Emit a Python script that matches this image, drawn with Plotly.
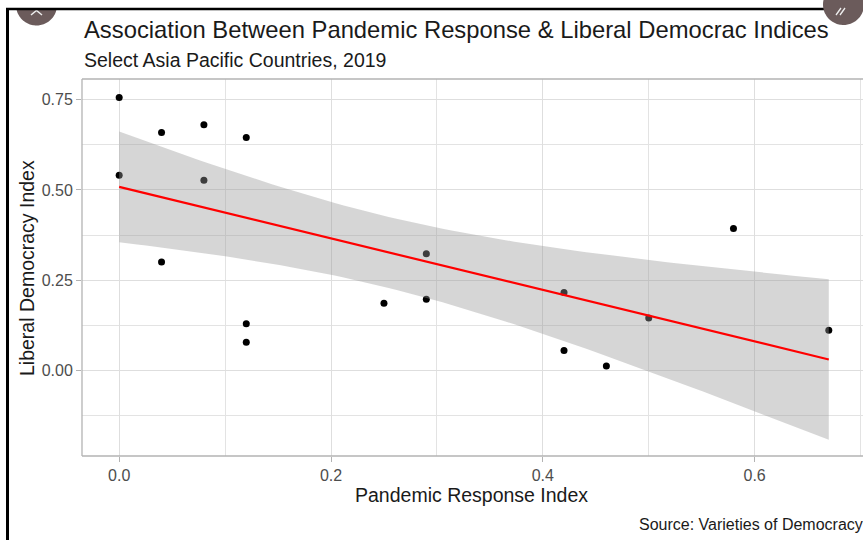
import numpy as np
import plotly.graph_objects as go

# Pandemic response index vs. liberal democracy index, select Asia Pacific countries (2019)
pandemic_response = [0.00, 0.00, 0.04, 0.04, 0.08, 0.08, 0.12, 0.12, 0.12,
                     0.25, 0.29, 0.29, 0.42, 0.42, 0.46, 0.50, 0.58, 0.67]
liberal_democracy = [0.756, 0.541, 0.659, 0.300, 0.681, 0.527, 0.645, 0.129, 0.078,
                     0.186, 0.323, 0.197, 0.216, 0.055, 0.012, 0.145, 0.393, 0.111]

x_ticks = [0.0, 0.2, 0.4, 0.6]
y_ticks = [0.00, 0.25, 0.50, 0.75]

title_text = "Association Between Pandemic Response & Liberal Democrac Indices"
subtitle_text = "Select Asia Pacific Countries, 2019"
x_title = "Pandemic Response Index"
y_title = "Liberal Democracy Index"
caption_text = "Source: Varieties of Democracy"

# Linear fit with a 95% confidence band (t quantile for n - 2 = 16 df)
x = np.array(pandemic_response)
y = np.array(liberal_democracy)
n = len(x)
slope, intercept = np.polyfit(x, y, 1)
resid = y - (intercept + slope * x)
s = np.sqrt(np.sum(resid ** 2) / (n - 2))
sxx = np.sum((x - x.mean()) ** 2)
T_CRIT = 2.119905
grid = np.linspace(x.min(), x.max(), 80)
fit = intercept + slope * grid
half = T_CRIT * s * np.sqrt(1.0 / n + (grid - x.mean()) ** 2 / sxx)
upper = fit + half
lower = fit - half

FONT = "Liberation Sans, Arial, sans-serif"
W, H = 863, 540
ML, MR, MT, MB = 82, 0, 79, 84
PW, PH = W - ML - MR, H - MT - MB


def px(xp):
    return (xp - ML) / PW


def py(yp):
    return (H - MB - yp) / PH


def disc_path(cx, cy, r, y_cut):
    """Closed polygon of a circle (pixel units) keeping only the part below y_cut."""
    t = np.linspace(0, 2 * np.pi, 120)
    xs = cx + r * np.cos(t)
    ys = np.maximum(cy + r * np.sin(t), y_cut)
    pts = [f"{px(a):.5f},{py(b):.5f}" for a, b in zip(xs, ys)]
    return "M " + " L ".join(pts) + " Z"


fig = go.Figure()

fig.add_trace(go.Scatter(
    x=pandemic_response, y=liberal_democracy, mode="markers",
    marker=dict(color="black", size=7, line=dict(width=0)),
    hoverinfo="x+y", showlegend=False,
))

fig.add_trace(go.Scatter(
    x=np.concatenate([grid, grid[::-1]]),
    y=np.concatenate([upper, lower[::-1]]),
    fill="toself", fillcolor="rgba(153,153,153,0.4)",
    line=dict(width=0), mode="lines", hoverinfo="skip", showlegend=False,
))

fig.add_trace(go.Scatter(
    x=grid, y=fit, mode="lines",
    line=dict(color="#FF0000", width=2.2), hoverinfo="skip", showlegend=False,
))

axis_common = dict(
    showgrid=True, gridcolor="#DEDEDE", gridwidth=1.3,
    zeroline=False, showline=False,
    ticks="outside", ticklen=5, tickwidth=1.2, tickcolor="#B3B3B3",
    tickfont=dict(family=FONT, size=16, color="#4D4D4D"),
)

fig.update_xaxes(
    range=[-0.0351, 0.7023], tickvals=x_ticks, tickformat=".1f",
    minor=dict(dtick=0.1, tick0=0, showgrid=True, gridcolor="#E3E3E3",
               gridwidth=0.9, ticks=""),
    **axis_common,
)
fig.update_yaxes(
    range=[-0.2375, 0.8075], tickvals=y_ticks, tickformat=".2f",
    minor=dict(dtick=0.125, tick0=0, showgrid=True, gridcolor="#E3E3E3",
               gridwidth=0.9, ticks=""),
    **axis_common,
)

shapes = [
    # panel border
    dict(type="line", xref="paper", yref="paper", x0=0, x1=0, y0=0, y1=1,
         line=dict(color="#B3B3B3", width=1.3)),
    dict(type="line", xref="paper", yref="paper", x0=0, x1=1, y0=0, y1=0,
         line=dict(color="#B3B3B3", width=1.3)),
    dict(type="line", xref="paper", yref="paper", x0=0, x1=1, y0=1, y1=1,
         line=dict(color="#B3B3B3", width=1.3)),
    # left round button, cut off by the frame
    dict(type="path", xref="paper", yref="paper",
         path=disc_path(36.5, 5.0, 20.5, 9.0),
         fillcolor="#6B5B5B", line=dict(width=0)),
    dict(type="path", xref="paper", yref="paper",
         path=f"M {px(31)},{py(15)} L {px(36.5)},{py(10.5)} L {px(42)},{py(15)}",
         line=dict(color="#EDEDED", width=1.5)),
    # frame edges
    dict(type="line", xref="paper", yref="paper", x0=px(7.5), x1=px(7.5),
         y0=py(540), y1=py(8), line=dict(color="black", width=3)),
    dict(type="line", xref="paper", yref="paper", x0=px(6), x1=px(863),
         y0=py(9), y1=py(9), line=dict(color="black", width=2.5)),
    # right round button
    dict(type="path", xref="paper", yref="paper",
         path=disc_path(843.5, 4.5, 20.5, -30),
         fillcolor="#6B5B5B", line=dict(width=0)),
    dict(type="path", xref="paper", yref="paper",
         path=(f"M {px(836)},{py(15)} L {px(841)},{py(8)} "
               f"M {px(840)},{py(15)} L {px(845)},{py(8)}"),
         line=dict(color="#EDEDED", width=1.3)),
]

annotations = [
    dict(text=title_text, xref="paper", yref="paper", x=0, y=py(29),
         xanchor="left", yanchor="middle", showarrow=False,
         font=dict(family=FONT, size=23.8, color="#1A1A1A")),
    dict(text=subtitle_text, xref="paper", yref="paper", x=0, y=py(60),
         xanchor="left", yanchor="middle", showarrow=False,
         font=dict(family=FONT, size=19.5, color="#1A1A1A")),
    dict(text=x_title, xref="paper", yref="paper", x=px(471.5), y=py(495),
         xanchor="center", yanchor="middle", showarrow=False,
         font=dict(family=FONT, size=19.5, color="#1A1A1A")),
    dict(text=y_title, xref="paper", yref="paper", x=px(27), y=py(268),
         xanchor="center", yanchor="middle", textangle=-90, showarrow=False,
         font=dict(family=FONT, size=19.5, color="#1A1A1A")),
    dict(text=caption_text, xref="paper", yref="paper", x=px(865), y=py(524),
         xanchor="right", yanchor="middle", showarrow=False,
         font=dict(family=FONT, size=16, color="#1A1A1A")),
]

fig.update_layout(
    width=W, height=H,
    margin=dict(l=ML, r=MR, t=MT, b=MB, pad=0),
    paper_bgcolor="white", plot_bgcolor="white",
    showlegend=False,
    shapes=shapes, annotations=annotations,
)

fig.write_html("out.html")
